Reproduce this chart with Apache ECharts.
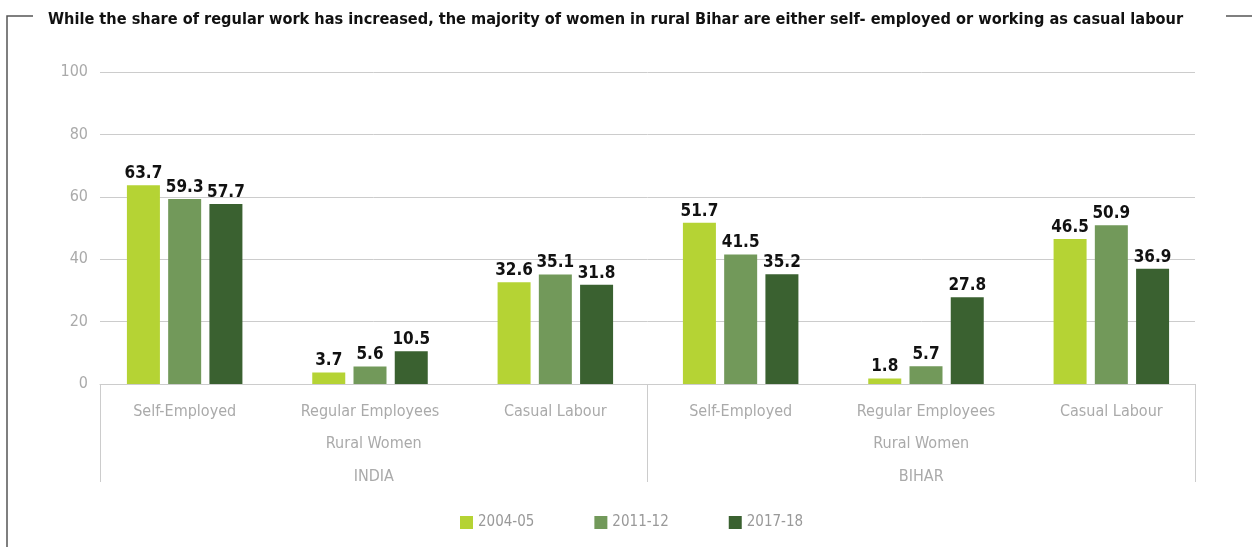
<!DOCTYPE html>
<html>
<head>
<meta charset="utf-8">
<script src="https://cdn.jsdelivr.net/npm/echarts@6/dist/echarts.min.js"></script>
<style>
  html, body { margin: 0; padding: 0; background: #fff; }
  #chart { width: 1252px; height: 547px; }
</style>
</head>
<body>
<div id="chart"></div>
<script>
  // data
  const categories = ['Self-Employed', 'Regular Employees', 'Casual Labour', 'Self-Employed', 'Regular Employees', 'Casual Labour'];
  const regions = ['INDIA', 'BIHAR'];
  const seriesNames = ['2004-05', '2011-12', '2017-18'];
  const values0405 = [63.7, 3.7, 32.6, 51.7, 1.8, 46.5];
  const values1112 = [59.3, 5.6, 35.1, 41.5, 5.7, 50.9];
  const values1718 = [57.7, 10.5, 31.8, 35.2, 27.8, 36.9];
  const yTicks = [0, 20, 40, 60, 80, 100];

  const colors = ['#b5d334', '#72995a', '#3a6130'];
  const narrow = '"DejaVu Sans Condensed", sans-serif';

  const myChart = echarts.init(document.getElementById('chart'));

  function barSeries(name, data, color) {
    return {
      name: name,
      type: 'bar',
      xAxisIndex: 0,
      yAxisIndex: 0,
      barWidth: 33,
      barGap: '25%',
      itemStyle: { color: color },
      label: {
        show: true,
        position: 'top',
        distance: 3,
        color: '#111',
        fontFamily: narrow,
        fontWeight: 'bold',
        fontSize: 17
      },
      data: data
    };
  }

  const option = {
    animation: false,
    title: {
      text: 'While the share of regular work has increased, the majority of women in rural Bihar are either self- employed or working as casual labour',
      left: 43,
      top: 7,
      textStyle: { fontFamily: narrow, fontWeight: 'bold', fontSize: 16.2, color: '#111' }
    },
    legend: {
      data: seriesNames,
      bottom: 12,
      left: 455,
      itemWidth: 13,
      itemHeight: 13,
      itemGap: 60,
      icon: 'rect',
      textStyle: { fontFamily: narrow, fontSize: 15, color: '#999' }
    },
    grid: [
      // bars sit a little wider than the framed axis, as in the reference
      { left: 92, right: 48, top: 72, bottom: 163 },
      { left: 100, right: 57, top: 72, bottom: 163 }
    ],
    xAxis: [
      {
        type: 'category',
        gridIndex: 0,
        data: categories,
        axisLine: { show: false },
        axisTick: { show: false },
        axisLabel: { interval: 0, margin: 20, fontFamily: narrow, fontSize: 16, color: '#aaa' }
      },
      {
        type: 'category',
        gridIndex: 1,
        position: 'bottom',
        data: regions,
        axisLine: { show: true, lineStyle: { color: '#ccc' } },
        axisTick: { show: true, length: 98, lineStyle: { color: '#ccc' } },
        axisLabel: {
          interval: 0,
          margin: 43,
          lineHeight: 33,
          fontFamily: narrow,
          fontSize: 16,
          color: '#aaa',
          formatter: function (v) { return 'Rural Women\n' + v; }
        }
      }
    ],
    yAxis: [
      {
        type: 'value',
        gridIndex: 0,
        min: yTicks[0],
        max: yTicks[yTicks.length - 1],
        interval: 20,
        show: false,
        splitLine: { show: false }
      },
      {
        type: 'value',
        gridIndex: 1,
        min: yTicks[0],
        max: yTicks[yTicks.length - 1],
        interval: 20,
        axisLine: { show: false },
        axisTick: { show: false },
        splitLine: { lineStyle: { color: '#ccc' } },
        axisLabel: { margin: 12, fontFamily: narrow, fontSize: 16, color: '#aaa' }
      }
    ],
    graphic: [
      { type: 'polyline', shape: { points: [[33, 16], [7, 16], [7, 547]] }, style: { stroke: '#555', lineWidth: 1.5, fill: null } },
      { type: 'line', shape: { x1: 1226, y1: 16, x2: 1252, y2: 16 }, style: { stroke: '#555', lineWidth: 1.5 } }
    ],
    series: [
      barSeries(seriesNames[0], values0405, colors[0]),
      barSeries(seriesNames[1], values1112, colors[1]),
      barSeries(seriesNames[2], values1718, colors[2])
    ]
  };

  myChart.setOption(option);
</script>
</body>
</html>
